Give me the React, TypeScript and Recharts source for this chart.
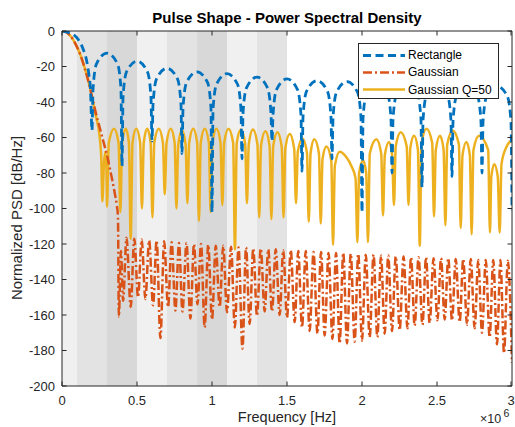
import { LineChart, Line, XAxis, YAxis, ReferenceArea, ReferenceLine, Legend } from 'recharts'

// frequencies are in MHz (axis shows x10^6), PSD in dB/Hz
const freqTicks = [0, 0.5, 1, 1.5, 2, 2.5, 3]
const psdTicks = [-200, -180, -160, -140, -120, -100, -80, -60, -40, -20, 0]

const bandStart = [0, 0.1, 0.3, 0.5, 0.7, 0.9, 1.1, 1.3]
const bandEnd = [0.1, 0.3, 0.5, 0.7, 0.9, 1.1, 1.3, 1.5]
const bandFill = ['#f0f0f0', '#e3e3e3', '#d8d8d8', '#f0f0f0', '#e3e3e3', '#d8d8d8', '#f0f0f0', '#e3e3e3']

const rectanglePsd: [number, number][] = [
  [0, 0], [0.05, -1], [0.1, -3.9], [0.14, -10], [0.165, -17], [0.18, -25], [0.19, -33], [0.2, -56],
  [0.207, -32.5], [0.23, -18.5], [0.3, -12.5], [0.37, -18.5], [0.393, -32.5], [0.4, -76],
  [0.407, -37], [0.43, -23], [0.5, -17], [0.57, -23], [0.593, -37], [0.6, -62],
  [0.607, -41], [0.63, -27], [0.7, -21], [0.77, -27], [0.793, -41], [0.8, -69],
  [0.807, -43], [0.83, -29], [0.9, -23], [0.97, -29], [0.993, -43], [1, -102],
  [1.007, -44], [1.03, -30], [1.1, -24], [1.17, -30], [1.193, -44], [1.2, -72],
  [1.207, -46], [1.23, -32], [1.3, -26], [1.37, -32], [1.393, -46], [1.4, -62],
  [1.407, -47], [1.43, -33], [1.5, -27], [1.57, -33], [1.593, -47], [1.6, -79],
  [1.607, -48], [1.63, -34], [1.7, -28], [1.77, -34], [1.793, -48], [1.8, -72],
  [1.807, -48.5], [1.83, -34.5], [1.9, -28.5], [1.97, -34.5], [1.993, -48.5], [2, -102],
  [2.007, -49], [2.03, -35], [2.1, -29], [2.17, -35], [2.193, -49], [2.2, -80],
  [2.207, -49.5], [2.23, -35.5], [2.3, -29.5], [2.37, -35.5], [2.393, -49.5], [2.4, -88],
  [2.407, -50], [2.43, -36], [2.5, -30], [2.57, -36], [2.593, -50], [2.6, -82],
  [2.607, -50.5], [2.63, -36.5], [2.7, -30.5], [2.77, -36.5], [2.793, -50.5], [2.8, -80],
  [2.807, -51], [2.83, -37], [2.9, -31], [2.97, -37], [2.993, -51], [3, -101],
]

const gaussianPsd: [number, number][] = [
  [0, 0], [0.025, -0.5], [0.05, -2.2], [0.075, -5], [0.1, -9], [0.125, -14], [0.15, -20.5],
  [0.175, -28], [0.2, -37], [0.225, -46], [0.25, -54], [0.275, -62], [0.3, -70], [0.318, -77],
  [0.335, -84], [0.351, -91], [0.365, -98], [0.373, -104], [0.379, -161], [0.393, -124],
  [0.407, -152], [0.43, -116.5], [0.458, -155.5], [0.482, -117], [0.507, -150], [0.531, -117.5],
  [0.556, -151], [0.581, -118], [0.607, -154.5], [0.631, -118], [0.656, -173], [0.681, -118.5],
  [0.707, -155.5], [0.731, -119], [0.756, -157.5], [0.78, -119.5], [0.803, -158], [0.83, -119.5],
  [0.856, -162], [0.88, -120], [0.903, -154], [0.927, -120], [0.951, -167], [0.975, -120.5],
  [1, -162.5], [1.025, -121], [1.051, -155.5], [1.075, -121], [1.1, -158.5], [1.127, -121.5],
  [1.152, -167], [1.177, -122], [1.203, -179], [1.227, -122], [1.251, -165], [1.275, -122.5],
  [1.3, -160.5], [1.325, -122.5], [1.351, -158], [1.375, -123], [1.4, -158], [1.425, -123],
  [1.451, -160], [1.475, -123.5], [1.5, -161.5], [1.525, -123.5], [1.551, -164], [1.575, -124],
  [1.6, -167], [1.625, -124], [1.651, -169], [1.677, -124.5], [1.703, -170.5], [1.727, -124.5],
  [1.751, -171.5], [1.777, -125], [1.803, -173.5], [1.827, -125], [1.851, -176], [1.875, -125],
  [1.9, -176], [1.925, -125.5], [1.951, -175], [1.975, -125.5], [2, -174.5], [2.025, -126],
  [2.051, -172.5], [2.077, -126], [2.102, -172.5], [2.127, -126.5], [2.151, -170.5], [2.175, -126.5],
  [2.2, -169], [2.225, -127], [2.251, -168.5], [2.277, -127], [2.303, -167.5], [2.327, -127.5],
  [2.351, -166], [2.377, -127.5], [2.403, -165.5], [2.427, -127.5], [2.451, -164.5], [2.477, -128],
  [2.503, -163], [2.527, -128], [2.551, -162.5], [2.575, -128], [2.6, -163], [2.625, -128.5],
  [2.651, -164], [2.675, -128.5], [2.7, -165.5], [2.725, -128.5], [2.751, -167.5], [2.775, -129],
  [2.8, -170], [2.825, -129], [2.851, -172.5], [2.875, -129], [2.9, -176.5], [2.923, -129],
  [2.947, -181.5], [2.972, -129.5], [3, -187],
]

const gaussianQ50Psd: [number, number][] = [
  [0, 0], [0.025, -0.5], [0.05, -2.2], [0.075, -5], [0.1, -9], [0.125, -14], [0.15, -20.5],
  [0.175, -28], [0.2, -37], [0.225, -47.5], [0.25, -59], [0.262, -72], [0.269, -96],
  [0.28, -74], [0.29, -68], [0.296, -76], [0.3, -99], [0.312, -63], [0.347, -55], [0.377, -63],
  [0.389, -102], [0.401, -63], [0.425, -55], [0.446, -63], [0.458, -117], [0.47, -63], [0.495, -55],
  [0.521, -63], [0.533, -100], [0.545, -63], [0.568, -55], [0.591, -63], [0.603, -105], [0.615, -63],
  [0.645, -55], [0.673, -63], [0.685, -92], [0.697, -63], [0.725, -55], [0.751, -63], [0.763, -100],
  [0.775, -64], [0.8, -56], [0.824, -64], [0.836, -97], [0.848, -63], [0.875, -55], [0.901, -63],
  [0.913, -107], [0.925, -63], [0.952, -55], [0.979, -63], [0.991, -102], [1.003, -63], [1.03, -55],
  [1.057, -63], [1.069, -98], [1.081, -63], [1.11, -55], [1.141, -63], [1.153, -123], [1.165, -63],
  [1.193, -55.5], [1.221, -63.5], [1.233, -97], [1.245, -64], [1.273, -55.5], [1.303, -64],
  [1.315, -105], [1.327, -64.5], [1.356, -56.5], [1.384, -65], [1.396, -106], [1.408, -65],
  [1.436, -57], [1.465, -65.5], [1.477, -105], [1.489, -66], [1.518, -58], [1.548, -66.5],
  [1.56, -97], [1.572, -68], [1.603, -60.5], [1.633, -68.5], [1.645, -107.5], [1.657, -69],
  [1.682, -61], [1.713, -69], [1.725, -108.5], [1.737, -72], [1.763, -65], [1.795, -73],
  [1.807, -120.5], [1.819, -76], [1.851, -68], [1.895, -71], [1.929, -76], [1.957, -83],
  [1.969, -119], [1.981, -80], [2.007, -73], [2.028, -80], [2.04, -119], [2.052, -69], [2.096, -61],
  [2.128, -69], [2.14, -104], [2.152, -70], [2.18, -62.5], [2.201, -70], [2.213, -98], [2.225, -65],
  [2.258, -57], [2.298, -65], [2.31, -98], [2.322, -66], [2.347, -59], [2.373, -67], [2.385, -121],
  [2.397, -63], [2.43, -55], [2.468, -63], [2.48, -104.5], [2.492, -67], [2.52, -59], [2.544, -67],
  [2.556, -109.5], [2.568, -64], [2.605, -56], [2.646, -64], [2.658, -111], [2.67, -70],
  [2.696, -62.5], [2.719, -70], [2.731, -114.5], [2.743, -67], [2.78, -59], [2.841, -67],
  [2.853, -113.5], [2.862, -82], [2.882, -75], [2.905, -82], [2.918, -113.5], [2.93, -75],
  [2.965, -65], [3, -61.5],
]

const FONT = '"Liberation Sans", Arial, Helvetica, sans-serif'
const AXIS = '#262626'
const PLOT_LEFT = 62
const PLOT_RIGHT = 512
const PLOT_TOP = 31
const PLOT_BOTTOM = 386
const TICK_LEN = 4.5

const SERIES = [
  { name: 'Rectangle', color: '#0072BD', dash: '8 4.5', width: 2.8 },
  { name: 'Gaussian', color: '#D95319', dash: '9 3 2 3', width: 2.5 },
  { name: 'Gaussian Q=50', color: '#EDB120', dash: undefined, width: 2.5 },
]

const toRows = (pts: [number, number][]) => pts.map(([f, psd]) => ({ f, psd }))

const XTick = ({ x, payload }: any) => (
  <g>
    <line x1={x} x2={x} y1={PLOT_BOTTOM} y2={PLOT_BOTTOM - TICK_LEN} stroke={AXIS} />
    <line x1={x} x2={x} y1={PLOT_TOP} y2={PLOT_TOP + TICK_LEN} stroke={AXIS} />
    <text x={x} y={405} textAnchor="middle" fontSize={13} fill={AXIS} fontFamily={FONT}>
      {payload.value}
    </text>
  </g>
)

const YTick = ({ y, payload }: any) => (
  <g>
    <line x1={PLOT_LEFT} x2={PLOT_LEFT + TICK_LEN} y1={y} y2={y} stroke={AXIS} />
    <line x1={PLOT_RIGHT - TICK_LEN} x2={PLOT_RIGHT} y1={y} y2={y} stroke={AXIS} />
    <text x={PLOT_LEFT - 7} y={y} dy="0.35em" textAnchor="end" fontSize={13} fill={AXIS} fontFamily={FONT}>
      {payload.value}
    </text>
  </g>
)

const LegendBox = () => (
  <div
    style={{
      position: 'relative', width: 141, height: 56, boxSizing: 'border-box',
      border: `1px solid ${AXIS}`, background: '#fff', fontFamily: FONT, fontSize: 12, color: '#000',
    }}
  >
    {SERIES.map((s, i) => (
      <div key={s.name} style={{ position: 'absolute', left: 0, top: 2.5 + i * 17.3, height: 17, display: 'flex', alignItems: 'center' }}>
        <svg width={49} height={17} style={{ display: 'block' }}>
          <line x1={4} x2={46} y1={8.5} y2={8.5} stroke={s.color} strokeWidth={s.width} strokeDasharray={s.dash} />
        </svg>
        <span style={{ whiteSpace: 'nowrap' }}>{s.name}</span>
      </div>
    ))}
  </div>
)

export default function App() {
  return (
    <div style={{ position: 'absolute', left: 0, top: 0, width: 515, height: 427, background: '#fff' }}>
      <LineChart width={515} height={427} margin={{ top: PLOT_TOP, right: 3, bottom: 0, left: 0 }}>
        {bandStart.map((b, i) => (
          <ReferenceArea key={b} x1={b} x2={bandEnd[i]} fill={bandFill[i]} fillOpacity={1} stroke="none" />
        ))}
        <XAxis
          type="number"
          dataKey="f"
          domain={[0, 3]}
          ticks={freqTicks}
          allowDataOverflow
          height={41}
          tickLine={false}
          axisLine={{ stroke: AXIS }}
          tick={<XTick />}
        />
        <YAxis
          type="number"
          domain={[-200, 0]}
          ticks={psdTicks}
          allowDataOverflow
          width={62}
          tickLine={false}
          axisLine={{ stroke: AXIS }}
          tick={<YTick />}
        />
        <Line data={toRows(gaussianQ50Psd)} dataKey="psd" name="Gaussian Q=50" type="monotone" stroke={SERIES[2].color} strokeWidth={SERIES[2].width} dot={false} isAnimationActive={false} />
        <Line data={toRows(gaussianPsd)} dataKey="psd" name="Gaussian" type="monotone" stroke={SERIES[1].color} strokeWidth={SERIES[1].width} strokeDasharray={SERIES[1].dash} dot={false} isAnimationActive={false} />
        <Line data={toRows(rectanglePsd)} dataKey="psd" name="Rectangle" type="monotone" stroke={SERIES[0].color} strokeWidth={SERIES[0].width} strokeDasharray={SERIES[0].dash} dot={false} isAnimationActive={false} />
        <ReferenceLine y={0} stroke={AXIS} />
        <ReferenceLine x={3} stroke={AXIS} />
        <Legend
          layout="vertical"
          align="center"
          verticalAlign="middle"
          wrapperStyle={{ left: 358, top: 43, width: 141 }}
          content={<LegendBox />}
        />
      </LineChart>
      <svg width={515} height={427} style={{ position: 'absolute', left: 0, top: 0, pointerEvents: 'none' }}>
        <text x={287} y={23} textAnchor="middle" fontSize={15} fontWeight="bold" fill="#000" fontFamily={FONT}>
          Pulse Shape - Power Spectral Density
        </text>
        <text transform="translate(21.5,218) rotate(-90)" textAnchor="middle" fontSize={15} fill={AXIS} fontFamily={FONT}>
          Normalized PSD [dB/Hz]
        </text>
        <text x={287} y={422} textAnchor="middle" fontSize={14.5} fill={AXIS} fontFamily={FONT}>
          Frequency [Hz]
        </text>
        <text x={480} y={423} fontSize={12.5} fill={AXIS} fontFamily={FONT}>
          ×10
        </text>
        <text x={503.5} y={417} fontSize={10.5} fill={AXIS} fontFamily={FONT}>
          6
        </text>
      </svg>
    </div>
  )
}
